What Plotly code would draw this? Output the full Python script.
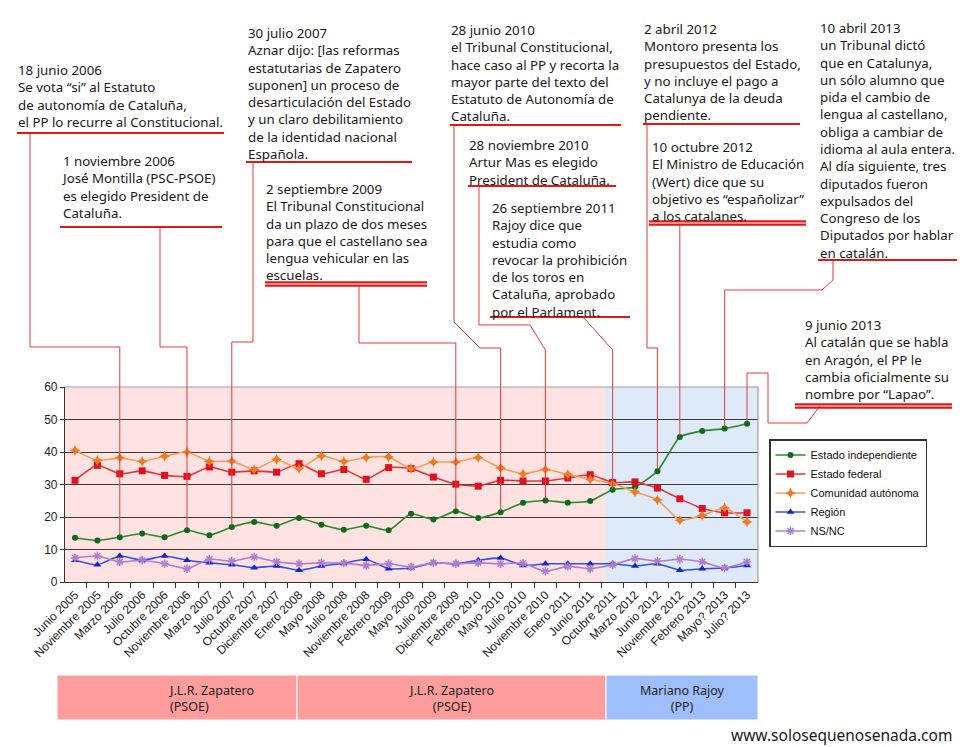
import plotly.graph_objects as go

# ---------------- data ----------------
categories = ["Junio 2005", "Noviembre 2005", "Marzo 2006", "Julio 2006", "Octubre 2006",
              "Noviembre 2006", "Marzo 2007", "Julio 2007", "Octubre 2007", "Diciembre 2007",
              "Enero 2008", "Mayo 2008", "Julio 2008", "Noviembre 2008", "Febrero 2009",
              "Mayo 2009", "Julio 2009", "Diciembre 2009", "Febrero 2010", "Mayo 2010",
              "Julio 2010", "Noviembre 2010", "Enero 2011", "Junio 2011", "Octubre 2011",
              "Marzo 2012", "Junio 2012", "Noviembre 2012", "Febrero 2013", "Mayo? 2013",
              "Julio? 2013"]

estado_independiente = [13.6, 12.8, 13.8, 14.9, 13.8, 15.9, 14.4, 16.9, 18.5, 17.3, 19.7, 17.6, 16.1,
                        17.3, 15.9, 21.0, 19.2, 21.8, 19.7, 21.5, 24.4, 25.1, 24.4, 24.9, 28.4, 29.2,
                        34.1, 44.6, 46.5, 47.2, 48.7]
estado_federal = [31.3, 35.9, 33.3, 34.2, 32.8, 32.5, 35.4, 33.8, 34.2, 33.8, 36.4, 33.3, 34.6, 31.6,
                  35.2, 34.9, 32.3, 30.1, 29.5, 31.3, 31.1, 31.1, 32.0, 33.0, 30.6, 30.8, 28.9, 25.6,
                  22.6, 21.3, 21.3]
comunidad_autonoma = [40.5, 37.4, 38.2, 37.1, 38.7, 40.0, 37.1, 37.2, 34.6, 37.7, 34.9, 38.8, 37.1,
                      38.3, 38.5, 34.9, 36.9, 36.9, 38.3, 35.1, 33.3, 34.6, 33.1, 31.6, 30.3, 27.7,
                      25.3, 19.0, 20.5, 22.8, 18.5]
region = [6.7, 5.3, 8.0, 6.7, 8.0, 6.7, 5.9, 5.3, 4.4, 4.9, 3.6, 4.9, 5.8, 7.0, 4.1, 4.3, 5.9, 5.6,
          6.7, 7.4, 5.1, 5.6, 5.6, 5.6, 5.6, 4.9, 5.6, 3.6, 4.1, 4.3, 5.1]
ns_nc = [7.4, 8.0, 6.2, 6.7, 5.6, 4.1, 7.0, 6.4, 7.7, 6.2, 5.6, 5.9, 5.8, 5.1, 5.6, 4.6, 5.9, 5.6,
         5.9, 5.6, 5.8, 3.3, 4.8, 4.1, 5.3, 7.2, 6.4, 7.0, 6.2, 4.3, 6.2]

series_names = ["Estado independiente", "Estado federal", "Comunidad autónoma", "Región", "NS/NC"]

governments = [("J.L.R. Zapatero<br>(PSOE)", "left"),
               ("J.L.R. Zapatero<br>(PSOE)", "center"),
               ("Mariano Rajoy<br>(PP)", "center")]

events = [
    ["18 junio 2006", "Se vota “si” al Estatuto", "de autonomía de Cataluña,",
     "el PP lo recurre al Constitucional."],
    ["1 noviembre 2006", "José Montilla (PSC-PSOE)", "es elegido President de", "Cataluña."],
    ["30 julio 2007", "Aznar dijo: [las reformas", "estatutarias de Zapatero", "suponen] un proceso de",
     "desarticulación del Estado", "y un claro debilitamiento", "de la identidad nacional", "Española."],
    ["2 septiembre 2009", "El Tribunal Constitucional", "da un plazo de dos meses",
     "para que el castellano sea", "lengua vehicular en las", "escuelas."],
    ["28 junio 2010", "el Tribunal Constitucional,", "hace caso al PP y recorta la",
     "mayor parte del texto del", "Estatuto de Autonomía de", "Cataluña."],
    ["28 noviembre 2010", "Artur Mas es elegido", "President de Cataluña."],
    ["26 septiembre 2011", "Rajoy dice que", "estudia como", "revocar la prohibición",
     "de los toros en", "Cataluña, aprobado", "por el Parlament."],
    ["2 abril 2012", "Montoro presenta los", "presupuestos del Estado,", "y no incluye el pago a",
     "Catalunya de la deuda", "pendiente."],
    ["10 octubre 2012", "El Ministro de Educación", "(Wert) dice que su",
     "objetivo es “españolizar”", "a los catalanes."],
    ["10 abril 2013", "un Tribunal dictó", "que en Catalunya,", "un sólo alumno que",
     "pida el cambio de", "lengua al castellano,", "obliga a cambiar de", "idioma al aula entera.",
     "Al día siguiente, tres", "diputados fueron", "expulsados del", "Congreso de los",
     "Diputados por hablar", "en catalán."],
    ["9 junio 2013", "Al catalán que se habla", "en Aragón, el PP le", "cambia oficialmente su",
     "nombre por “Lapao”."],
]
event_index = [2, 5, 7, 17, 19, 21, 24, 26, 27, 29, 30]

# ---------------- layout geometry (pixels) ----------------
W, H = 960, 747
L, R, T, B = 65, 758, 387, 582
PW, PH = R - L, B - T
XR = (-0.446, 30.49)

FONT = "Noto Sans"
AX_FONT = "Liberation Sans"
RED = "#E23B3B"


def px(x):
    return (x - L) / PW


def py(y):
    return (B - y) / PH


def ipx(i):
    return L + (i - XR[0]) / (XR[1] - XR[0]) * PW


# text blocks: (left px, first line center px)
text_pos = [(17, 69), (60, 160), (247, 32), (265, 188), (450, 29), (468, 144),
            (491, 207), (643, 28), (651, 146), (819, 27), (804, 324)]
# underlines: (y, x0, x1, double)
underlines = [(133, 17, 224, False), (227, 60, 222, False), (162, 246, 412, False),
              (284, 265, 427, True), (125, 450, 621, False), (186, 468, 616, False),
              (317, 490, 630, False), (124, 643, 800, False), (223, 649, 806, True),
              (260, 818, 957, False), (406, 795, 952, True)]
# connector paths (pixels) ending at the index column
connectors = [
    [(30, 133), (30, 347), ("i", 347)],
    [(160, 227), (160, 347), ("i", 347)],
    [(253, 162), (253, 342), ("i", 342)],
    [(359, 286), (359, 343), ("i", 343)],
    [(454, 125), (454, 322), (480, 348), ("i", 348)],
    [(479, 186), (479, 325), (530, 325), ("i", 350)],
    [(583, 317), ("i", 350)],
    [(647, 124), (647, 348), ("i", 348)],
    [("i", 226)],
    [(833, 260), (833, 280), (822, 290), ("i", 290)],
    [(820, 406), (807, 423), (768, 423), (768, 373), ("i", 373)],
]

fig = go.Figure()

styles = [
    dict(line=dict(color="#2A8A2A", width=1.6),
         marker=dict(symbol="circle", size=6, color="#0F6A1A")),
    dict(line=dict(color="#E8323A", width=1.6),
         marker=dict(symbol="square", size=7, color="#E0101E")),
    dict(line=dict(color="#F5A05A", width=1.6),
         marker=dict(symbol="star-diamond", size=8, color="#F07A22")),
    dict(line=dict(color="#3050E8", width=1.6),
         marker=dict(symbol="triangle-up", size=7, color="#1525CC")),
    dict(line=dict(color="#B07CD0", width=1.6),
         marker=dict(symbol="asterisk-open", size=7, line=dict(color="#8A2E9A", width=1.5))),
]
all_series = [estado_independiente, estado_federal, comunidad_autonoma, region, ns_nc]
for name, vals, st in zip(series_names, all_series, styles):
    fig.add_trace(go.Scatter(x=categories, y=vals, name=name, mode="lines+markers",
                             line=dict(shape="spline", smoothing=0.5, **st["line"]),
                             marker=st["marker"]))

shapes = []
# background regions
split = 23.66
shapes.append(dict(type="rect", xref="x", yref="paper", x0=XR[0], x1=split, y0=0, y1=1,
                   fillcolor="#FFE2E2", line=dict(width=0), layer="below"))
shapes.append(dict(type="rect", xref="x", yref="paper", x0=split, x1=XR[1], y0=0, y1=1,
                   fillcolor="#DFEAF9", line=dict(width=0), layer="below"))
# plot border (top/right)
shapes.append(dict(type="path", xref="paper", yref="paper",
                   path="M 0,1 L 1,1 L 1,0", line=dict(color="#A0A0A0", width=1.2)))

# connectors
for pts, idx in zip(connectors, event_index):
    xcol = ipx(idx)
    coords = []
    for (x, y) in pts:
        xx = xcol if x == "i" else x
        coords.append((px(xx), py(y)))
    coords.append((px(xcol), 1.0))
    path = "M " + " L ".join(f"{a:.5f},{b:.5f}" for a, b in coords)
    shapes.append(dict(type="path", xref="paper", yref="paper", path=path,
                       line=dict(color=RED, width=1)))
    shapes.append(dict(type="line", xref="x", yref="y", x0=idx, x1=idx, y0=60,
                       y1=estado_independiente[idx] + 0.5, line=dict(color=RED, width=1)))

# underlines
for (y, x0, x1, dbl) in underlines:
    if dbl:
        for dy in (-1.6, 1.6):
            shapes.append(dict(type="line", xref="paper", yref="paper", x0=px(x0), x1=px(x1),
                               y0=py(y + dy), y1=py(y + dy), line=dict(color="#E01818", width=2.2)))
    else:
        shapes.append(dict(type="line", xref="paper", yref="paper", x0=px(x0), x1=px(x1),
                           y0=py(y), y1=py(y), line=dict(color="#E01818", width=1.8)))

# government bands
bands = [(57, 297, "#FF9C9C"), (297, 606, "#FF9C9C"), (606, 758, "#9FBFFC")]
for (x0, x1, c) in bands:
    shapes.append(dict(type="rect", xref="paper", yref="paper", x0=px(x0), x1=px(x1),
                       y0=py(720), y1=py(675), fillcolor=c, line=dict(color="white", width=1)))

annotations = []
for lines, (x, y) in zip(events, text_pos):
    annotations.append(dict(xref="paper", yref="paper", x=px(x - 1), y=py(y - 9.8),
                            xanchor="left", yanchor="top", align="left", showarrow=False,
                            text="<br>".join(lines),
                            font=dict(family=FONT, size=13.3, color="#1A1A1A")))

band_text_x = [(167, "left"), (451, "center"), (682, "center")]
for (txt, al), (bx, anchor) in zip(governments, band_text_x):
    annotations.append(dict(xref="paper", yref="paper", x=px(bx), y=py(698),
                            xanchor=anchor, yanchor="middle", align=al, showarrow=False,
                            text=txt, font=dict(family=FONT, size=12.5, color="#222")))

annotations.append(dict(xref="paper", yref="paper", x=px(954), y=py(735), xanchor="right",
                        yanchor="middle", showarrow=False, text="www.solosequenosenada.com",
                        font=dict(family=FONT, size=15.5, color="#1A1A1A")))

fig.update_layout(
    width=W, height=H,
    margin=dict(l=L, r=W - R, t=T, b=H - B, pad=0),
    paper_bgcolor="white", plot_bgcolor="white",
    showlegend=True,
    legend=dict(x=px(769), y=py(439), xanchor="left", yanchor="top",
                bgcolor="white", bordercolor="#333", borderwidth=1.5,
                font=dict(family=AX_FONT, size=11, color="#111"),
                tracegroupgap=0, itemwidth=30),
    shapes=shapes, annotations=annotations,
    xaxis=dict(type="category", range=list(XR), tickangle=-45, showgrid=False,
               showline=True, linecolor="#333", linewidth=1.2, ticks="outside",
               tickson="boundaries", ticklen=5, tickcolor="#333",
               tickfont=dict(family=AX_FONT, size=12, color="#222")),
    yaxis=dict(range=[0, 60], dtick=10, showgrid=True, gridcolor="#3C3C3C", gridwidth=1.2,
               zeroline=False, showline=True, linecolor="#333", linewidth=1.2,
               ticks="outside", ticklen=4, tickcolor="#333",
               tickfont=dict(family=AX_FONT, size=12, color="#222")),
)

fig.write_html("out.html", config={"displayModeBar": False},
               post_script="document.body.style.margin='0';")
